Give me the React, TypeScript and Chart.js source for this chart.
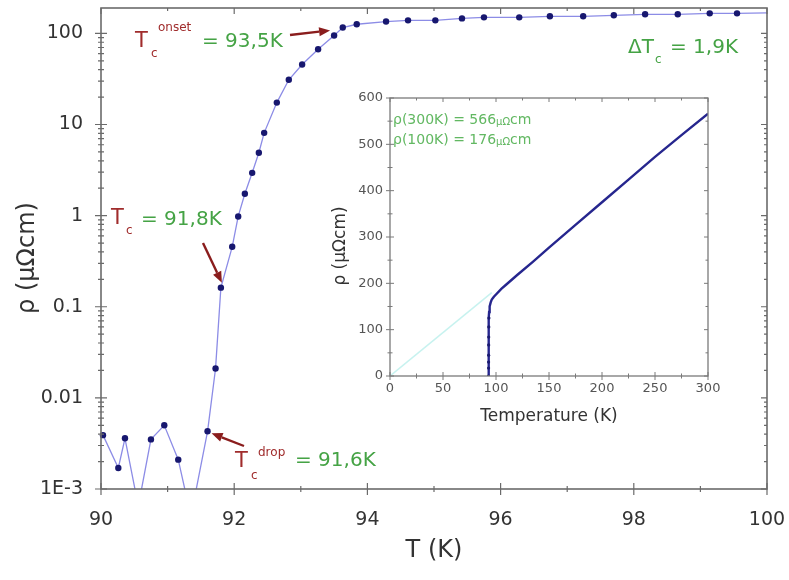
import { useEffect, useRef } from "react";
import { Chart, registerables } from "chart.js";

Chart.register(...registerables);

// ---- Main panel: resistivity across the superconducting transition ----
const temperatureK = [
  90.03, 90.26, 90.36, 90.56, 90.75, 90.95, 91.16, 91.35, 91.6, 91.72, 91.8,
  91.97, 92.06, 92.16, 92.27, 92.37, 92.45, 92.64, 92.82, 93.02, 93.26, 93.5,
  93.63, 93.84, 94.28, 94.61, 95.02, 95.42, 95.75, 96.28, 96.74, 97.24, 97.7,
  98.17, 98.66, 99.14, 99.55, 100.1,
];
const resistivity = [
  0.0039, 0.0017, 0.0036, 0.00065, 0.0035, 0.005, 0.0021, 0.0005, 0.0043,
  0.021, 0.162, 0.455, 0.98, 1.74, 2.95, 4.9, 8.1, 17.4, 31, 45.6, 67, 95, 116,
  126, 135, 139, 139, 146, 150, 150, 154, 154, 158, 162, 162, 166, 166, 168,
];
const xTicks = [90, 92, 94, 96, 98, 100];
const yTicks = [0.001, 0.01, 0.1, 1, 10, 100];
const yTickLabels = ["1E-3", "0.01", "0.1", "1", "10", "100"];

// Characteristic temperatures marked on the main panel
const tcOnset = 93.5;
const tcMid = 91.8;
const tcDrop = 91.6;
const deltaTc = 1.9;

// ---- Inset: full temperature range ----
const insetT = [
  92.9, 93.0, 93.0, 93.05, 93.1, 93.15, 93.2, 93.3, 93.5, 94, 95, 96, 98, 100,
  105, 110, 120, 135, 150, 175, 200, 225, 250, 275, 300,
];
const insetRho = [
  0, 17, 30, 45, 67, 84, 106, 125, 138, 150, 159, 165, 171, 176, 188, 198, 218,
  247, 277, 326, 375, 424, 473, 520, 566,
];
// Linear normal-state extrapolation towards 0 K
const normalStateT = [0, 96];
const normalStateRho = [0, 180];
const insetXTicks = [0, 50, 100, 150, 200, 250, 300];
const insetYTicks = [0, 100, 200, 300, 400, 500, 600];
const rho300 = 566;
const rho100 = 176;

const FONT = '"DejaVu Sans", Verdana, sans-serif';
const RED = "#a02c2c";
const ARROW = "#8a1d1d";
const GREEN = "#45a345";
const INSET_GREEN = "#62b862";
const AXIS = "#6b6b6b";
const TEXT = "#333333";

const fmtK = (v: number) => v.toFixed(1).replace(".", ",") + "K";

function txt(ctx: CanvasRenderingContext2D, s: string, x: number, y: number, size: number, color: string) {
  ctx.font = `${size}px ${FONT}`;
  ctx.fillStyle = color;
  ctx.fillText(s, x, y);
  return x + ctx.measureText(s).width;
}

function arrow(ctx: CanvasRenderingContext2D, x1: number, y1: number, x2: number, y2: number) {
  const ang = Math.atan2(y2 - y1, x2 - x1);
  const head = 11;
  const half = 4.5;
  const bx = x2 - head * Math.cos(ang);
  const by = y2 - head * Math.sin(ang);
  ctx.save();
  ctx.strokeStyle = ARROW;
  ctx.fillStyle = ARROW;
  ctx.lineWidth = 2.4;
  ctx.beginPath();
  ctx.moveTo(x1, y1);
  ctx.lineTo(bx, by);
  ctx.stroke();
  ctx.beginPath();
  ctx.moveTo(x2, y2);
  ctx.lineTo(bx + half * Math.sin(ang), by - half * Math.cos(ang));
  ctx.lineTo(bx - half * Math.sin(ang), by + half * Math.cos(ang));
  ctx.closePath();
  ctx.fill();
  ctx.restore();
}

const mainDecor = {
  id: "mainDecor",
  afterDatasetsDraw(chart: any) {
    const { ctx, chartArea: a, scales } = chart;
    const x = scales.x;
    const y = scales.y;
    ctx.save();
    ctx.strokeStyle = AXIS;
    ctx.lineWidth = 1.2;
    ctx.beginPath();
    for (let t = 90; t <= 100; t += 1) {
      const px = x.getPixelForValue(t);
      const L = t % 2 === 0 ? 6 : 3;
      ctx.moveTo(px, a.bottom - L);
      ctx.lineTo(px, a.bottom + L);
      ctx.moveTo(px, a.top);
      ctx.lineTo(px, a.top + L);
    }
    for (let d = -3; d <= 2; d++) {
      for (let k = 1; k <= 9; k++) {
        const v = k * Math.pow(10, d);
        if (v > y.max) break;
        const py = y.getPixelForValue(v);
        const L = k === 1 ? 6 : 3;
        ctx.moveTo(a.left - L, py);
        ctx.lineTo(a.left + L, py);
        ctx.moveTo(a.right - L, py);
        ctx.lineTo(a.right, py);
      }
    }
    ctx.stroke();
    ctx.lineWidth = 1.6;
    ctx.strokeRect(a.left, a.top, a.right - a.left, a.bottom - a.top);
    ctx.restore();
  },
  afterDraw(chart: any) {
    const { ctx, chartArea: a, scales } = chart;
    const x = scales.x;
    const y = scales.y;
    const at = (t: number) => {
      const i = temperatureK.indexOf(t);
      return { px: x.getPixelForValue(t), py: y.getPixelForValue(resistivity[i]) };
    };
    ctx.save();

    // axis titles
    ctx.textAlign = "center";
    ctx.textBaseline = "middle";
    ctx.font = `24px ${FONT}`;
    ctx.fillStyle = TEXT;
    ctx.fillText("T (K)", (a.left + a.right) / 2, 551);
    ctx.save();
    ctx.translate(28, 258);
    ctx.rotate(-Math.PI / 2);
    ctx.fillText("ρ (μΩcm)", 0, 0);
    ctx.restore();
    ctx.textAlign = "left";
    ctx.textBaseline = "alphabetic";

    // T_c onset
    txt(ctx, "T", 135, 47, 21, RED);
    txt(ctx, "c", 151, 57, 12, RED);
    txt(ctx, "onset", 158, 31, 12, RED);
    txt(ctx, "= " + fmtK(tcOnset), 202, 47, 20, GREEN);
    const on = at(tcOnset);
    arrow(ctx, 290, 35, on.px - 4, on.py - 5);

    // T_c
    txt(ctx, "T", 111, 224, 21, RED);
    txt(ctx, "c", 126, 234, 12, RED);
    txt(ctx, "= " + fmtK(tcMid), 141, 225, 20, GREEN);
    const mid = at(tcMid);
    arrow(ctx, 203, 243, mid.px + 1, mid.py - 5);

    // T_c drop
    txt(ctx, "T", 235, 467, 21, RED);
    txt(ctx, "c", 251, 479, 12, RED);
    txt(ctx, "drop", 258, 456, 12, RED);
    txt(ctx, "= " + fmtK(tcDrop), 295, 466, 20, GREEN);
    const dr = at(tcDrop);
    arrow(ctx, 244, 446, dr.px + 4, dr.py + 2);

    // transition width
    const e = txt(ctx, "ΔT", 628, 53, 20, GREEN);
    txt(ctx, "c", e + 1, 63, 12, GREEN);
    txt(ctx, "= " + fmtK(deltaTc), 670, 53, 20, GREEN);
    ctx.restore();
  },
};

const insetDecor = {
  id: "insetDecor",
  afterDatasetsDraw(chart: any) {
    const { ctx, chartArea: a, scales } = chart;
    const x = scales.x;
    const y = scales.y;
    ctx.save();
    ctx.strokeStyle = "#7a7a7a";
    ctx.lineWidth = 1;
    ctx.beginPath();
    for (let t = 0; t <= 300; t += 25) {
      const px = x.getPixelForValue(t);
      const L = t % 50 === 0 ? 4 : 2.5;
      ctx.moveTo(px, a.bottom - L);
      ctx.lineTo(px, a.bottom + L);
      ctx.moveTo(px, a.top);
      ctx.lineTo(px, a.top + L);
    }
    for (let r = 0; r <= 600; r += 50) {
      const py = y.getPixelForValue(r);
      const L = r % 100 === 0 ? 4 : 2.5;
      ctx.moveTo(a.left - L, py);
      ctx.lineTo(a.left + L, py);
      ctx.moveTo(a.right - L, py);
      ctx.lineTo(a.right, py);
    }
    ctx.stroke();
    ctx.lineWidth = 1.3;
    ctx.strokeRect(a.left, a.top, a.right - a.left, a.bottom - a.top);
    ctx.restore();
  },
  afterDraw(chart: any) {
    const { ctx, chartArea: a } = chart;
    ctx.save();
    ctx.textAlign = "center";
    ctx.textBaseline = "middle";
    ctx.fillStyle = TEXT;
    ctx.font = `17px ${FONT}`;
    ctx.fillText("Temperature (K)", (a.left + a.right) / 2, 337);
    ctx.save();
    ctx.translate(21, 166);
    ctx.rotate(-Math.PI / 2);
    ctx.fillText("ρ (μΩcm)", 0, 0);
    ctx.restore();

    ctx.textAlign = "left";
    ctx.textBaseline = "alphabetic";
    let e = txt(ctx, `ρ(300K) = ${rho300}`, a.left + 3, 44, 14, INSET_GREEN);
    e = txt(ctx, "μΩ", e, 45, 10, INSET_GREEN);
    txt(ctx, "cm", e, 44, 14, INSET_GREEN);
    e = txt(ctx, `ρ(100K) = ${rho100}`, a.left + 3, 64, 14, INSET_GREEN);
    e = txt(ctx, "μΩ", e, 65, 10, INSET_GREEN);
    txt(ctx, "cm", e, 64, 14, INSET_GREEN);
    ctx.restore();
  },
};

export default function App() {
  const mainRef = useRef<HTMLCanvasElement>(null);
  const insetRef = useRef<HTMLCanvasElement>(null);

  useEffect(() => {
    const main = new Chart(mainRef.current as HTMLCanvasElement, {
      type: "line",
      data: {
        datasets: [
          {
            data: temperatureK.map((t, i) => ({ x: t, y: resistivity[i] })),
            borderColor: "#8c8ce6",
            borderWidth: 1.3,
            pointRadius: 3.2,
            pointBackgroundColor: "#17176f",
            pointBorderWidth: 0,
            tension: 0,
            clip: { left: 5, top: 5, right: 0, bottom: 0 } as any,
          },
        ],
      },
      options: {
        responsive: false,
        animation: false,
        devicePixelRatio: 1,
        layout: { padding: { left: 0, top: 8, right: 22, bottom: 0 } },
        plugins: { legend: { display: false }, tooltip: { enabled: false } },
        scales: {
          x: {
            type: "linear",
            min: 90,
            max: 100,
            grid: { display: false, drawTicks: false },
            border: { display: false },
            afterBuildTicks: (s: any) => {
              s.ticks = xTicks.map((v) => ({ value: v }));
            },
            ticks: {
              padding: 20,
              color: TEXT,
              font: { family: FONT, size: 19 },
              callback: (v: any) => String(v),
            },
            afterFit: (s: any) => {
              s.height = 91;
              s.paddingLeft = 0;
              s.paddingRight = 0;
            },
          },
          y: {
            type: "logarithmic",
            min: 0.001,
            max: 190,
            grid: { display: false, drawTicks: false },
            border: { display: false },
            afterBuildTicks: (s: any) => {
              s.ticks = yTicks.map((v) => ({ value: v }));
            },
            ticks: {
              padding: 18,
              color: TEXT,
              font: { family: FONT, size: 19 },
              callback: (_v: any, i: number) => yTickLabels[i],
            },
            afterFit: (s: any) => {
              s.width = 101;
              s.paddingTop = 0;
              s.paddingBottom = 0;
            },
          },
        },
      },
      plugins: [mainDecor],
    });

    const inset = new Chart(insetRef.current as HTMLCanvasElement, {
      type: "line",
      data: {
        datasets: [
          {
            data: insetT.map((t, i) => ({ x: t, y: insetRho[i] })),
            borderColor: "#26268e",
            borderWidth: 2.4,
            pointRadius: (c: any) => (insetRho[c.dataIndex] < 130 ? 1.6 : 0),
            pointBackgroundColor: "#1a1a70",
            pointBorderWidth: 0,
            tension: 0,
          },
          {
            data: normalStateT.map((t, i) => ({ x: t, y: normalStateRho[i] })),
            borderColor: "rgba(175, 236, 232, 0.7)",
            borderWidth: 1.5,
            pointRadius: 0,
            tension: 0,
          },
        ],
      },
      options: {
        responsive: false,
        animation: false,
        devicePixelRatio: 1,
        layout: { padding: { left: 0, top: 18, right: 12, bottom: 0 } },
        plugins: { legend: { display: false }, tooltip: { enabled: false } },
        scales: {
          x: {
            type: "linear",
            min: 0,
            max: 300,
            grid: { display: false, drawTicks: false },
            border: { display: false },
            afterBuildTicks: (s: any) => {
              s.ticks = insetXTicks.map((v) => ({ value: v }));
            },
            ticks: {
              padding: 5,
              color: "#555",
              font: { family: FONT, size: 13 },
              callback: (v: any) => String(v),
            },
            afterFit: (s: any) => {
              s.height = 64;
              s.paddingLeft = 0;
              s.paddingRight = 0;
            },
          },
          y: {
            type: "linear",
            min: 0,
            max: 600,
            grid: { display: false, drawTicks: false },
            border: { display: false },
            afterBuildTicks: (s: any) => {
              s.ticks = insetYTicks.map((v) => ({ value: v }));
            },
            ticks: {
              padding: 7,
              color: "#555",
              font: { family: FONT, size: 13 },
              callback: (v: any) => String(v),
            },
            afterFit: (s: any) => {
              s.width = 70;
              s.paddingTop = 0;
              s.paddingBottom = 0;
            },
          },
        },
      },
      plugins: [insetDecor],
    });

    return () => {
      main.destroy();
      inset.destroy();
    };
  }, []);

  return (
    <div
      style={{
        position: "fixed",
        left: 0,
        top: 0,
        width: 789,
        height: 580,
        background: "#ffffff",
      }}
    >
      <canvas
        ref={mainRef}
        width={789}
        height={580}
        style={{ position: "absolute", left: 0, top: 0, width: 789, height: 580 }}
      />
      <canvas
        ref={insetRef}
        width={400}
        height={360}
        style={{ position: "absolute", left: 320, top: 80, width: 400, height: 360 }}
      />
    </div>
  );
}
